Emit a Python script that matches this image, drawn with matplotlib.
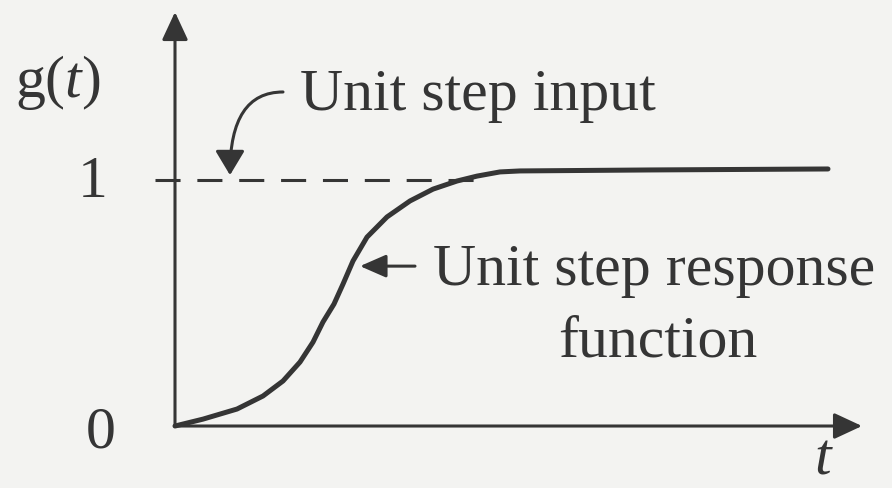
import matplotlib
matplotlib.use("Agg")
import matplotlib.pyplot as plt

# unit step response (t in arbitrary units, g normalised)
t_vals = [0.0, 0.28, 0.62, 0.88, 1.08, 1.25, 1.38, 1.48, 1.59, 1.68,
          1.78, 1.92, 2.12, 2.35, 2.58, 2.82, 3.02, 3.25, 3.45, 4.75, 6.53]
g_vals = [0.0, 0.028, 0.069, 0.122, 0.183, 0.26, 0.341, 0.423, 0.496, 0.577,
          0.671, 0.768, 0.85, 0.915, 0.963, 0.996, 1.016, 1.033, 1.037, 1.041, 1.045]

step_t = [-0.2, 3.0]
step_g = [1.0, 1.0]

tick_labels = ["0", "1"]
tick_values = [0, 1]

ink = "#353535"
paper = "#f3f3f1"

plt.rcParams["font.family"] = "Liberation Serif"
plt.rcParams["mathtext.fontset"] = "custom"
plt.rcParams["mathtext.rm"] = "Liberation Serif"
plt.rcParams["mathtext.it"] = "Liberation Serif:italic"

fig = plt.figure(figsize=(8.92, 4.89), dpi=100, facecolor=paper)
ax = fig.add_axes([0, 0, 1, 1])
ax.set_facecolor(paper)
ax.set_xlim(-1.75, 7.17)
ax.set_ylim(-0.252, 1.736)
ax.axis("off")

# axes with arrow heads
axis_arrow = dict(arrowstyle="-|>,head_length=0.86,head_width=0.4",
                  mutation_scale=20, lw=2.2, color=ink, shrinkA=0, shrinkB=0)
ax.annotate("", xy=(0, 1.683), xytext=(0, 0), arrowprops=axis_arrow)
ax.annotate("", xy=(6.87, 0), xytext=(0, 0), arrowprops=axis_arrow)

# unit step input (dashed) and response curve
ax.plot(step_t, step_g, color=ink, lw=2.2, dashes=[8.2, 5.5])
ax.plot(t_vals, g_vals, color=ink, lw=3.6, solid_joinstyle="round",
        solid_capstyle="round")

fs = 43
ax.text(-1.6, 1.341, r"$\mathrm{g(}t\mathrm{)}$", fontsize=fs, color=ink,
        ha="left", va="baseline")
ax.text(-0.82, tick_values[1] - 0.065, tick_labels[1], fontsize=fs, color=ink,
        ha="center", va="baseline")
ax.text(-0.74, tick_values[0] - 0.085, tick_labels[0], fontsize=fs, color=ink,
        ha="center", va="baseline")
ax.text(6.48, -0.244, "t", fontsize=fs, color=ink, style="italic",
        ha="center", va="bottom")

ax.text(1.25, 1.289, "Unit step input", fontsize=fs, color=ink,
        ha="left", va="baseline")
ax.annotate("", xy=(0.55, 1.02), xytext=(1.08, 1.358),
            arrowprops=dict(arrowstyle="-|>,head_length=0.75,head_width=0.45",
                            mutation_scale=20, lw=2.2, color=ink,
                            shrinkA=0, shrinkB=0,
                            connectionstyle="angle3,angleA=0,angleB=90"))

ax.text(2.58, 0.577, "Unit step response", fontsize=fs, color=ink,
        ha="left", va="baseline")
ax.text(4.83, 0.285, "function", fontsize=fs, color=ink,
        ha="center", va="baseline")
ax.annotate("", xy=(1.85, 0.65), xytext=(2.40, 0.65),
            arrowprops=dict(arrowstyle="-|>,head_length=0.8,head_width=0.35",
                            mutation_scale=20, lw=2.2, color=ink,
                            shrinkA=0, shrinkB=0))

fig.savefig("out.png", dpi=100, facecolor=paper)
